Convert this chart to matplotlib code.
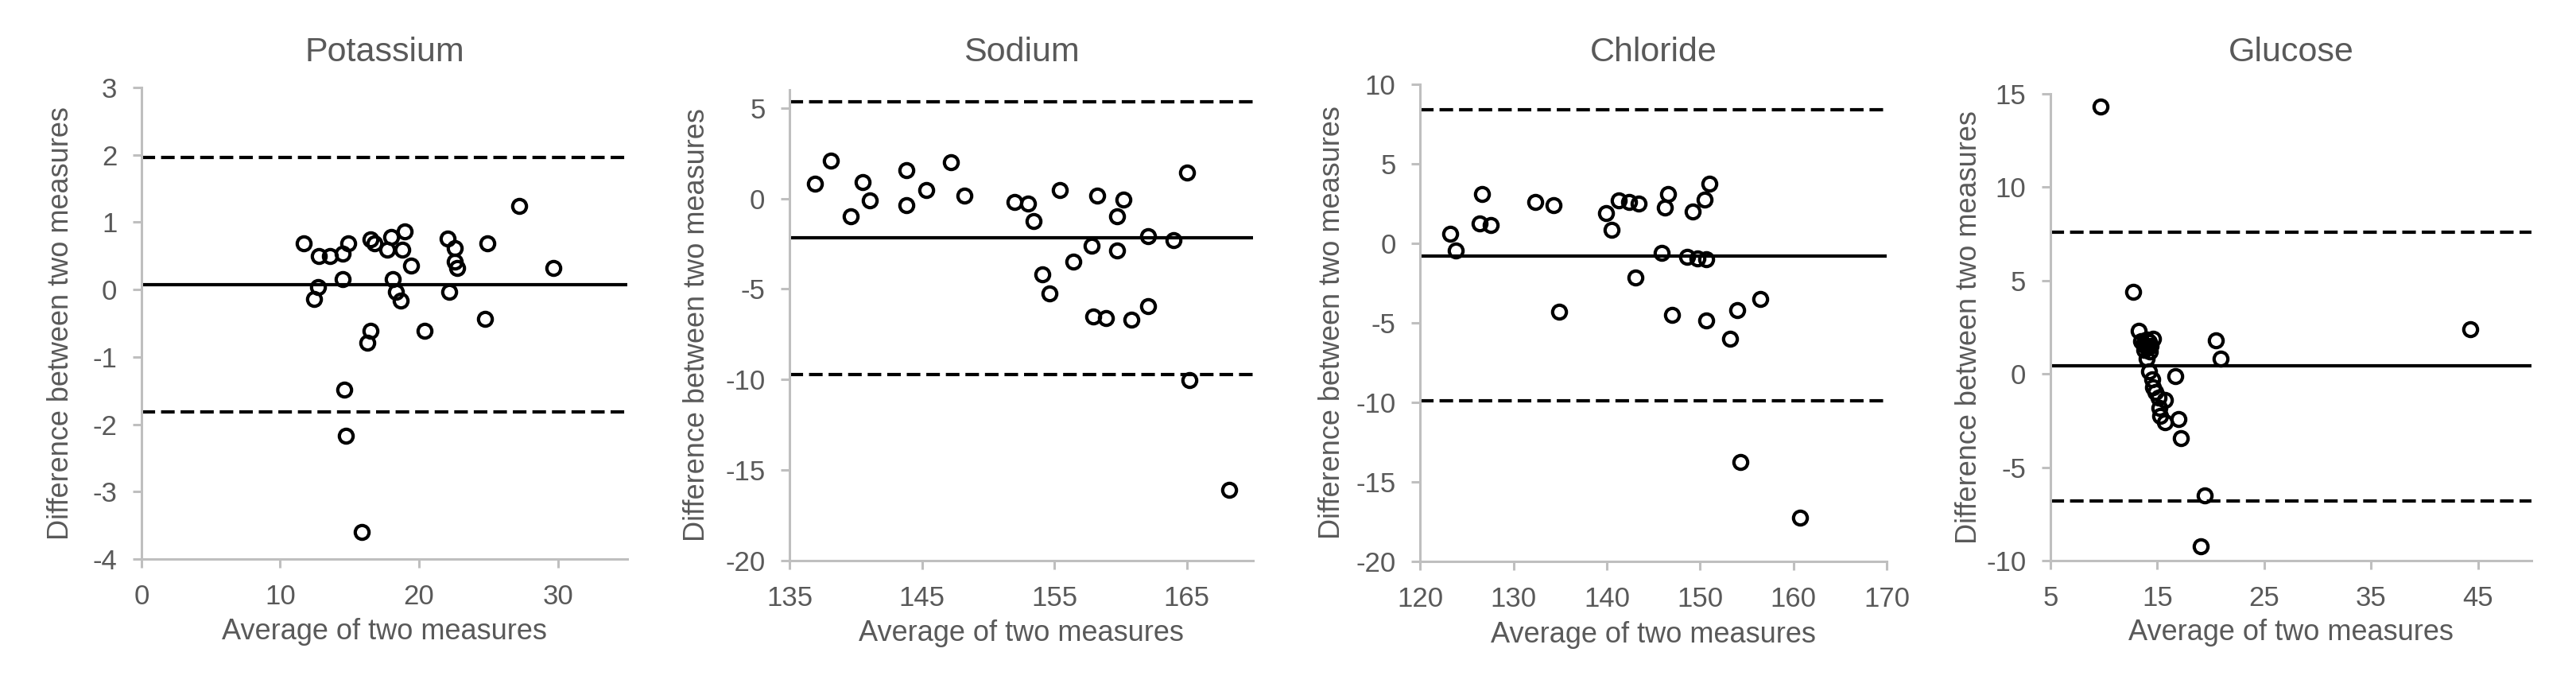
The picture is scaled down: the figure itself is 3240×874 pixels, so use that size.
import matplotlib
matplotlib.use("Agg")
import matplotlib.pyplot as plt

# Bland-Altman style plots
titles = ["Potassium", "Sodium", "Chloride", "Glucose"]

potassium_avg = [11.7, 12.76, 13.6, 14.5, 14.9, 14.5, 12.7, 12.45, 16.5, 16.8, 17.7,
                 18.0, 18.96, 18.8, 19.4, 18.1, 18.36, 18.7, 16.5, 16.3, 20.4, 22.06,
                 22.6, 22.6, 22.75, 22.2, 24.9, 24.75, 27.2, 29.7, 14.6, 14.7, 15.9]
potassium_diff = [0.69, 0.5, 0.5, 0.53, 0.69, 0.16, 0.04, -0.14, 0.74, 0.69, 0.59,
                  0.78, 0.86, 0.59, 0.35, 0.16, -0.03, -0.16, -0.61, -0.79, -0.61, 0.76,
                  0.61, 0.41, 0.32, -0.03, 0.69, -0.44, 1.24, 0.32, -1.49, -2.17, -3.6]

sodium_avg = [136.9, 138.1, 139.6, 140.5, 141.05, 143.8, 143.8, 145.3, 147.2, 148.2,
              152.0, 153.0, 153.4, 154.06, 154.6, 155.4, 156.4, 157.8, 157.9, 158.2,
              158.9, 159.7, 159.7, 160.2, 160.8, 162.05, 162.1, 164.0, 165.0, 165.2, 168.2]
sodium_diff = [0.8, 2.09, -0.97, 0.92, -0.11, 1.55, -0.38, 0.48, 2.0, 0.18,
               -0.18, -0.3, -1.23, -4.17, -5.24, 0.48, -3.48, -2.63, -6.52, 0.18,
               -6.59, -2.87, -0.97, -0.06, -6.71, -2.07, -5.93, -2.31, 1.45, -10.04, -16.08]

chloride_avg = [123.2, 123.8, 126.6, 126.4, 127.6, 132.3, 134.3, 134.9, 139.9, 140.5,
                141.3, 142.4, 143.4, 143.1, 146.25, 146.6, 145.9, 147.0, 148.6, 149.7,
                150.7, 149.2, 150.5, 151.04, 150.7, 153.2, 154.0, 156.45, 154.3, 160.7]
chloride_diff = [0.61, -0.45, 3.12, 1.23, 1.14, 2.62, 2.42, -4.29, 1.92, 0.86,
                 2.7, 2.62, 2.48, -2.17, 2.26, 3.12, -0.58, -4.48, -0.86, -0.95,
                 -1.0, 1.98, 2.76, 3.73, -4.85, -6.02, -4.2, -3.5, -13.73, -17.24]

glucose_avg = [9.66, 12.75, 13.3, 14.6, 13.5, 13.7, 13.9, 14.1, 13.8, 14.2, 14.4, 14.0,
               14.3, 14.0, 14.25, 14.5, 14.6, 14.85, 15.1, 15.7, 15.2, 15.3, 15.7, 16.65,
               17.0, 17.2, 20.5, 20.9, 19.45, 19.07, 44.3]
glucose_diff = [14.33, 4.41, 2.32, 1.9, 1.75, 1.6, 1.5, 1.4, 1.3, 1.7, 1.5, 1.85,
                1.2, 0.8, 0.15, -0.27, -0.7, -0.98, -1.27, -1.41, -1.83, -2.26, -2.61, -0.13,
                -2.41, -3.43, 1.79, 0.83, -6.52, -9.25, 2.41]

# mean difference and limits of agreement
bias = [0.07, -2.19, -0.81, 0.42]
upper_loa = [1.96, 5.35, 8.38, 7.57]
lower_loa = [-1.82, -9.72, -9.92, -6.8]

x_lims = [(0, 35), (135, 170), (120, 170), (5, 50)]
y_lims = [(-4, 3), (-20, 6), (-20, 10), (-10, 15)]
x_ticks = [[0, 10, 20, 30], [135, 145, 155, 165], [120, 130, 140, 150, 160, 170],
           [5, 15, 25, 35, 45]]
y_ticks = [list(range(-4, 4)), list(range(-20, 6, 5)), list(range(-20, 11, 5)),
           list(range(-10, 16, 5))]

avgs = [potassium_avg, sodium_avg, chloride_avg, glucose_avg]
diffs = [potassium_diff, sodium_diff, chloride_diff, glucose_diff]

# axes boxes in figure fraction (left, bottom, width, height)
boxes = [[0.0549, 0.1957, 0.1885, 0.6785],
         [0.3064, 0.1934, 0.1799, 0.6773],
         [0.5511, 0.1922, 0.1811, 0.6865],
         [0.7957, 0.1934, 0.1867, 0.6716]]
ylabel_x = [-0.137, -0.170, -0.158, -0.141]
title_y = [1.074, 1.079, 1.067, 1.089]

plt.rcParams['font.family'] = ['Liberation Sans', 'DejaVu Sans']
plt.rcParams['axes.unicode_minus'] = False
text_grey = '#595959'
axis_grey = '#bfbfbf'

fig = plt.figure(figsize=(32.41, 8.74), dpi=100)

for i in range(4):
    ax = fig.add_axes(boxes[i])
    ax.plot(avgs[i], diffs[i], linestyle='none', marker='o', markersize=12.5,
            markerfacecolor='none', markeredgecolor='black', markeredgewidth=3,
            zorder=3)
    ax.axhline(bias[i], color='black', linewidth=3, zorder=2)
    for v in (upper_loa[i], lower_loa[i]):
        ax.axhline(v, color='black', linewidth=3, linestyle=(0, (4.1, 1.8)),
                   dash_capstyle='butt', zorder=2)

    ax.set_xlim(*x_lims[i])
    ax.set_ylim(*y_lims[i])
    ax.set_xticks(x_ticks[i])
    ax.set_yticks(y_ticks[i])

    for s in ('top', 'right'):
        ax.spines[s].set_visible(False)
    for s in ('left', 'bottom'):
        ax.spines[s].set_color(axis_grey)
        ax.spines[s].set_linewidth(2.2)
    ax.tick_params(direction='out', length=8, width=2.2, color=axis_grey,
                   labelcolor=text_grey, labelsize=25, pad=14)

    ax.set_xlabel('Average of two measures', fontsize=26, color=text_grey)
    ax.xaxis.set_label_coords(0.5, -0.125)
    ax.set_ylabel('Difference between two measures', fontsize=26, color=text_grey)
    ax.yaxis.set_label_coords(ylabel_x[i], 0.5)
    ax.text(0.5, title_y[i], titles[i], transform=ax.transAxes, ha='center',
            va='center', fontsize=31, color=text_grey)

fig.savefig('out.png', dpi=100)
